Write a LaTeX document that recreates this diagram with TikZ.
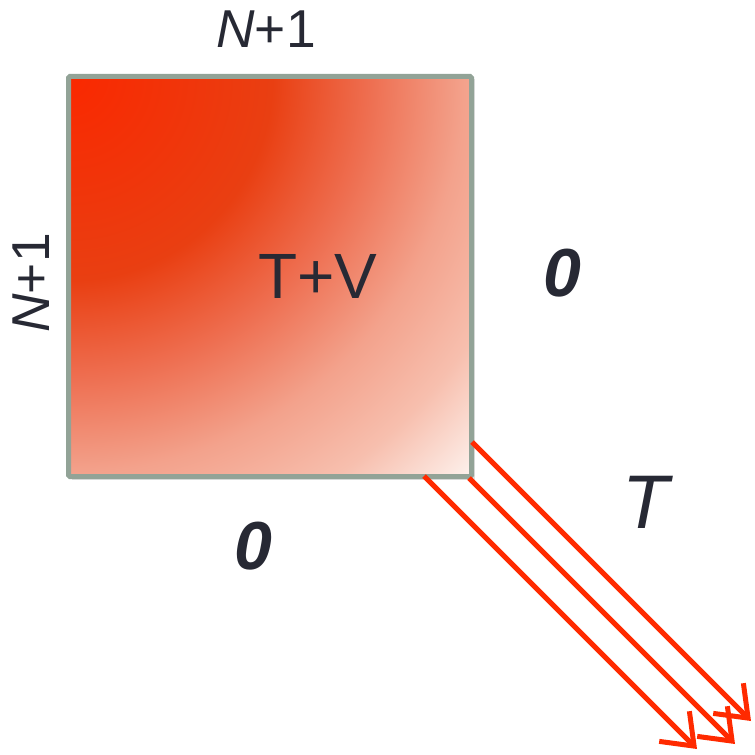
\documentclass[tikz,border=0pt]{standalone}
\usepackage{fontspec}
\setmainfont{Liberation Sans}
\usetikzlibrary{arrows.meta,fit}
\definecolor{txt}{HTML}{272934}
\definecolor{frame}{HTML}{92A397}
\definecolor{arr}{HTML}{FF2A00}
\definecolor{c0}{HTML}{FA2800}
\definecolor{c1}{HTML}{E93F12}
\definecolor{c2}{HTML}{EE6E50}
\definecolor{c3}{HTML}{F3A28C}
\definecolor{c4}{HTML}{F7BFAE}
\definecolor{c5}{HTML}{FDF0EB}
\pgfdeclareradialshading{boxshade}{\pgfpoint{0bp}{0bp}}{color(0bp)=(c0); color(8.5bp)=(c1); color(12.5bp)=(c2); color(16.5bp)=(c3); color(20bp)=(c4); color(23.5bp)=(c5); color(25bp)=(white); color(50bp)=(white)}
\tikzset{
  lbl/.style={text=txt, inner sep=0pt},
  framebox/.style={draw=frame, line width=3.75pt, inner sep=0pt, rounded corners=1pt},
  redarrow/.style={draw=arr, line width=3.75pt, -{Straight Barb[length=21pt,width=32pt]}}
}
\begin{document}
\begin{tikzpicture}[x=0.75pt,y=-0.75pt]
\useasboundingbox (0,0) rectangle (754,755);
\coordinate (tl) at (68.5,76.5);
\coordinate (br) at (471.5,476.5);
\fill[black, opacity=0.12] ([shift={(3,3)}]tl) rectangle ([shift={(3,3)}]br);
\begin{scope}
  \clip (tl) rectangle (br);
  \shade[shading=boxshade] (tl) circle (450pt);
\end{scope}
\node[framebox, fit=(tl)(br)] (box) {};

\node[lbl, font=\fontsize{40}{48}\selectfont] (top) at (266,29) {\textit{N}+1};
\node[lbl, rotate=90, font=\fontsize{40}{48}\selectfont] (left) at (31,283) {\textit{N}+1};
\node[lbl, font=\fontsize{48}{58}\selectfont] (tv) at (318,276) {T+V};
\node[lbl, font=\fontsize{51}{60}\selectfont\bfseries\itshape] (zr) at (562,273) {0};
\node[lbl, font=\fontsize{51}{60}\selectfont\bfseries\itshape] (zb) at (253,546) {0};
\node[lbl, font=\fontsize{57}{66}\selectfont\itshape] (tt) at (646,502) {T};

\coordinate (s1) at (424,476);
\coordinate (e1) at (697,749);
\coordinate (s2) at (469,478);
\coordinate (e2) at (735,744);
\coordinate (s3) at (472,442);
\coordinate (e3) at (751,721);
\draw[redarrow] (s1) -- (e1);
\draw[redarrow] (s2) -- (e2);
\draw[redarrow] (s3) -- (e3);
\end{tikzpicture}
\end{document}
